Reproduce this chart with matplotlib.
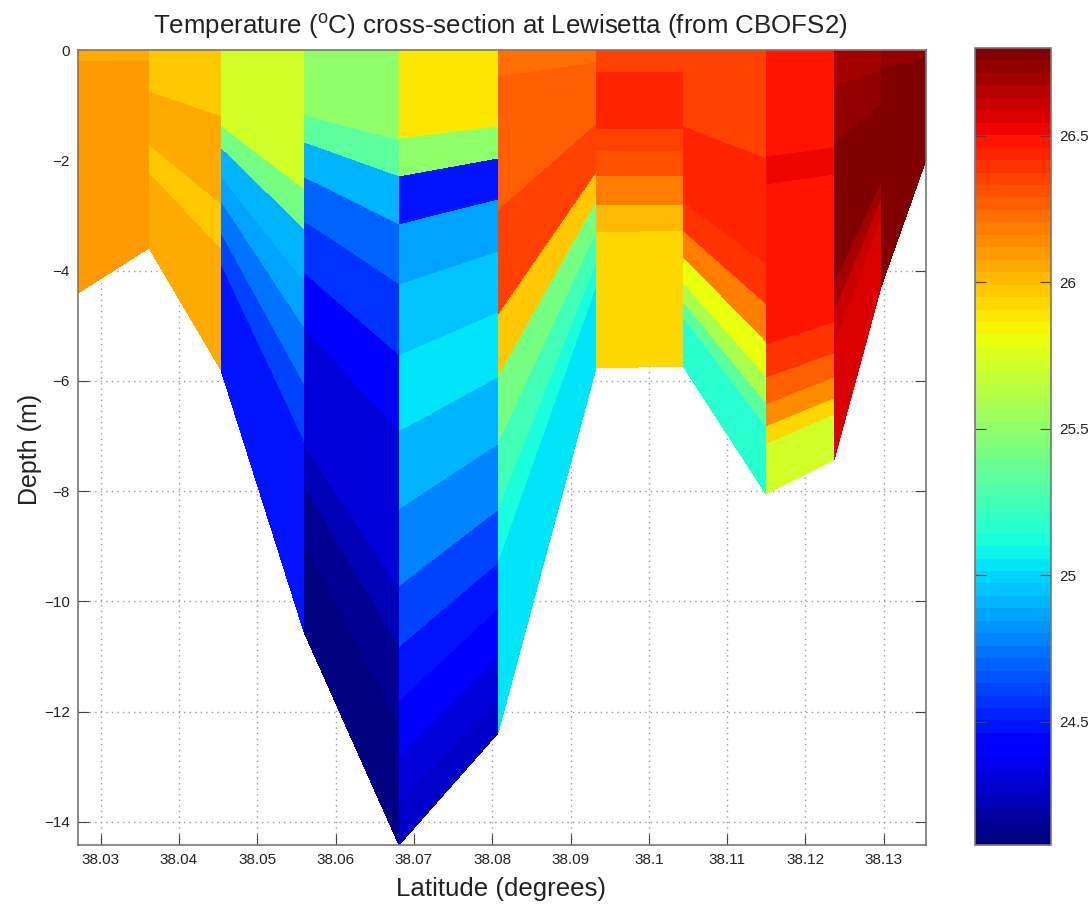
import numpy as np
import matplotlib
matplotlib.use('Agg')
import matplotlib.pyplot as plt

plt.rcParams['font.family'] = ['Liberation Sans', 'DejaVu Sans']
plt.rcParams['mathtext.fontset'] = 'custom'
plt.rcParams['mathtext.rm'] = 'Liberation Sans'
plt.rcParams['mathtext.default'] = 'regular'

# column edges along the section and water depth at each edge
latitude = [38.0271, 38.0362, 38.0453, 38.0560, 38.0681, 38.0808,
            38.0932, 38.1044, 38.1150, 38.1236, 38.1297, 38.1354]
bottom = [4.41, 3.60, 5.80, 10.55, 14.42, 12.39, 5.77, 5.73, 8.05, 7.44, 4.30, 2.00]

# for each column: lower limit of each band, as a fraction of the depth
sigma = [
    [.05, 1],
    [.21, .485, .627, 1],
    [.24, .31, .40, .48, .578, .675, 1],
    [.114, .16, .22, .295, .385, .48, .68, .752, .85, 1],
    [.112, .16, .22, .295, .385, .48, .578, .675, .752, .82, .89, .95, 1],
    [.04, .235, .39, .48, .578, .675, .752, 1],
    [.07, .25, .32, .40, .49, .574, 1],
    [.245, .485, .575, .66, .74, .80, .852, 1],
    [.24, .305, .575, .665, .74, .80, .85, .89, 1],
    [.09, .23, .57, .64, .72, 1],
    [.08, 1],
]
# temperature of those bands, top to bottom
temp = [
    [26.05, 26.10],
    [25.98, 26.05, 25.98, 26.05],
    [25.70, 25.40, 24.92, 24.88, 24.72, 24.60, 24.48],
    [25.52, 25.35, 24.92, 24.68, 24.55, 24.38, 24.30, 24.22, 24.14, 24.10],
    [25.87, 25.52, 24.50, 24.85, 24.95, 25.05, 24.92, 24.80, 24.62, 24.48, 24.38, 24.33, 24.27],
    [26.24, 26.28, 26.36, 25.98, 25.40, 25.25, 25.10, 25.03],
    [26.36, 26.44, 26.36, 26.30, 26.17, 26.03, 25.92],
    [26.36, 26.44, 26.38, 26.17, 25.82, 25.60, 25.32, 25.15],
    [26.50, 26.53, 26.50, 26.46, 26.40, 26.25, 26.12, 25.95, 25.73],
    [26.68, 26.72, 26.80, 26.70, 26.63, 26.55],
    [26.72, 26.78],
]

xticks = [38.03, 38.04, 38.05, 38.06, 38.07, 38.08, 38.09, 38.1, 38.11, 38.12, 38.13]
xticklabels = ['38.03', '38.04', '38.05', '38.06', '38.07', '38.08', '38.09', '38.1', '38.11', '38.12', '38.13']
yticks = [0, -2, -4, -6, -8, -10, -12, -14]
cticks = [24.5, 25, 25.5, 26, 26.5]
tmin, tmax = 24.08, 26.80

W, H = 1089, 907
fig = plt.figure(figsize=(W/100, H/100), dpi=100)
ax = fig.add_axes([78/W, 1-845/H, (926-78)/W, (845-50)/H])
cax = fig.add_axes([975/W, 1-845/H, (1051-975)/W, (845-48)/H])

cmap = plt.get_cmap('jet', 64)
norm = plt.Normalize(tmin, tmax)

for i in range(len(temp)):
    s = np.array([0] + sigma[i])
    X = np.array([[latitude[i], latitude[i+1]]]*len(s))
    Y = -np.outer(s, [bottom[i], bottom[i+1]])
    C = np.array(temp[i]).reshape(-1, 1)
    mesh = ax.pcolormesh(X, Y, C, cmap=cmap, norm=norm, shading='flat', zorder=2)

ax.set_xlim(38.0271, 38.1354)
ax.set_ylim(-14.42, 0)
ax.set_xticks(xticks)
ax.set_xticklabels(xticklabels)
ax.set_yticks(yticks)
ax.grid(True, color='#999999', linestyle=(0, (1, 3)), linewidth=1, zorder=1)
ax.set_axisbelow(True)
ax.tick_params(direction='in', length=8, width=0.8, color='#444444', labelsize=11,
               labelcolor='#222222', top=True, right=True, pad=6)
for sp in ax.spines.values():
    sp.set_color('#777777')
    sp.set_linewidth(1.2)
    sp.set_zorder(5)

fig.text(500/W, 1-27/H, r'Temperature ($^{o}$C) cross-section at Lewisetta (from CBOFS2)',
         fontsize=18.6, color='#222222', ha='center', va='center')
fig.text(501/W, 1-889/H, 'Latitude (degrees)', fontsize=18.6, color='#222222', ha='center', va='center')
fig.text(30/W, 1-449/H, 'Depth (m)', fontsize=18, color='#222222', rotation=90, ha='center', va='center')

cb = fig.colorbar(mesh, cax=cax)
cb.set_ticks(cticks)
cb.set_ticklabels(['24.5', '25', '25.5', '26', '26.5'])
cax.tick_params(direction='in', length=8, width=0.8, color='#444444', labelsize=11,
                labelcolor='#222222', left=True, right=True, pad=6)
cb.outline.set_edgecolor('#777777')
cb.outline.set_linewidth(1.2)

fig.savefig('out.png', dpi=100)
